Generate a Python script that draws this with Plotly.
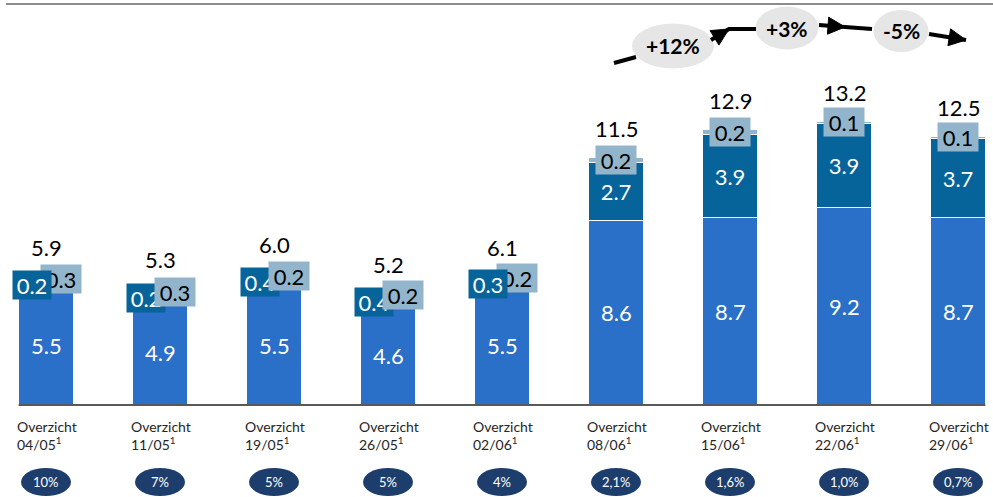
import plotly.graph_objects as go
import numpy as np

# ---------------- data ----------------
dates = ["04/05", "11/05", "19/05", "26/05", "02/06", "08/06", "15/06", "22/06", "29/06"]
base = [5.5, 4.9, 5.5, 4.6, 5.5, 8.6, 8.7, 9.2, 8.7]
mid = [0.2, 0.2, 0.4, 0.4, 0.3, 2.7, 3.9, 3.9, 3.7]
top = [0.3, 0.3, 0.2, 0.2, 0.2, 0.2, 0.2, 0.1, 0.1]
totals = [5.9, 5.3, 6.0, 5.2, 6.1, 11.5, 12.9, 13.2, 12.5]
rates = ["10%", "7%", "5%", "5%", "4%", "2,1%", "1,6%", "1,0%", "0,7%"]
growth = ["+12%", "+3%", "-5%"]
growth_from = [5, 6, 7]

# ---------------- layout constants ----------------
W, H = 993, 497
PXU = 21.5          # pixels per value unit
X0_PX, STEP_PX, BASE_PX = 46, 114, 405
BW = 0.48
FONT = "Lato"
C_BASE, C_MID, C_TOP, C_OVAL = "#2A6FC8", "#07649A", "#93B5CC", "#1D3E6C"
DARK_LABEL_ON_TOP = {0, 4}   # label stacking order as in the original

n = len(dates)
xs = list(range(n))

fig = go.Figure()
for vals, col in [(base, C_BASE), (mid, C_MID), (top, C_TOP)]:
    fig.add_trace(go.Bar(x=xs, y=vals, width=BW, marker=dict(color=col, line=dict(color="white", width=1)),
                         hoverinfo="skip"))

ann = []
shapes = []


def ppy(py):
    return 1 - py / H


def A(**kw):
    kw.setdefault("showarrow", False)
    kw.setdefault("xanchor", "center")
    kw.setdefault("yanchor", "middle")
    ann.append(kw)


VF = 22
for i in xs:
    small = mid[i] < 1
    b, m, t = base[i], mid[i], top[i]
    A(x=i, y=b / 2, text=f"{b:.1f}", font=dict(family=FONT, size=VF, color="white"))
    dark = dict(x=i, y=b + m / 2, text=f"{m:.1f}", xshift=-14 if small else 0,
                bgcolor=C_MID, width=38, height=28, borderpad=0,
                font=dict(family=FONT, size=VF, color="white"))
    light = dict(x=i, y=b + m + t / 2, text=f"{t:.1f}", xshift=15 if small else 0,
                 bgcolor=C_TOP, width=40, height=28, borderpad=0,
                 font=dict(family=FONT, size=VF, color="black"))
    for d in ([light, dark] if i in DARK_LABEL_ON_TOP else [dark, light]):
        A(**d)
    A(x=i, y=b + m + t, text=f"{totals[i]:.1f}", yshift=29,
      font=dict(family=FONT, size=VF, color="black"))
    # category labels
    A(x=i, y=ppy(435.5), yref="paper", text=f"Overzicht<br>{dates[i]}<sup>1</sup>", xanchor="left",
      xshift=-31, align="left", font=dict(family=FONT, size=14, color="#262626"))
    # rate ovals
    shapes.append(dict(type="circle", xref="x", yref="paper", xsizemode="pixel", ysizemode="pixel",
                       xanchor=i, yanchor=ppy(482), x0=-25, x1=25, y0=-14, y1=14,
                       fillcolor=C_OVAL, line=dict(width=0)))
    A(x=i, y=ppy(482), yref="paper", text=rates[i], font=dict(family=FONT, size=13, color="white"))

# baseline
shapes.append(dict(type="line", xref="x", yref="y", x0=-BW / 2, x1=n - 1 + BW / 2, y0=0, y1=0,
                   line=dict(color="#595959", width=2)))
# top rule
shapes.append(dict(type="line", xref="paper", yref="paper", x0=6 / W, x1=1, y0=ppy(4), y1=ppy(4),
                   line=dict(color="#8C8C8C", width=2)))

# growth bubbles
g_py = [46, 28, 31]
g_size = [(82, 45), (63, 43), (55, 42)]
for k, lab in enumerate(growth):
    gx = growth_from[k] + 0.5
    w, h = g_size[k]
    shapes.append(dict(type="circle", xref="x", yref="paper", xsizemode="pixel", ysizemode="pixel",
                       xanchor=gx, yanchor=ppy(g_py[k]), x0=-w / 2, x1=w / 2, y0=-h / 2, y1=h / 2,
                       fillcolor="#E6E6E6", line=dict(width=0)))
    A(x=gx, y=ppy(g_py[k]), yref="paper", text=f"<b>{lab}</b>",
      font=dict(family=FONT, size=21, color="black"))

# arrows: (bubble index, polyline points rel. x / abs y from top, head at point index or None)
arrows = [
    (0, [(-59, 63), (-37, 57)], None),
    (0, [(38, 40), (56, 29), (83, 29)], 1),
    (1, [(32, 25), (58, 27), (85, 29)], 1),
    (2, [(28, 34), (65, 40)], 1),
]
for k, pts, head in arrows:
    gx = growth_from[k] + 0.5
    path = "M " + " L ".join(f"{px},{-py}" for px, py in pts)
    shapes.append(dict(type="path", xref="x", yref="paper", xsizemode="pixel", ysizemode="pixel",
                       xanchor=gx, yanchor=1, path=path, line=dict(color="black", width=4)))
    if head is not None:
        tip = np.array(pts[head], float)
        tail = np.array(pts[head - 1], float)
        u = (tip - tail) / np.linalg.norm(tip - tail)
        nrm = np.array([-u[1], u[0]])
        L, HW = 17, 8.5
        bc = tip - L * u
        p1, p2 = bc + HW * nrm, bc - HW * nrm
        tri = f"M {tip[0]:.1f},{-tip[1]:.1f} L {p1[0]:.1f},{-p1[1]:.1f} L {p2[0]:.1f},{-p2[1]:.1f} Z"
        shapes.append(dict(type="path", xref="x", yref="paper", xsizemode="pixel", ysizemode="pixel",
                           xanchor=gx, yanchor=1, path=tri, fillcolor="black", line=dict(color="black", width=1)))

fig.update_layout(
    width=W, height=H, margin=dict(l=0, r=0, t=0, b=0),
    barmode="stack", showlegend=False,
    paper_bgcolor="white", plot_bgcolor="white",
    xaxis=dict(visible=False, range=[-X0_PX / STEP_PX, (W - X0_PX) / STEP_PX]),
    yaxis=dict(visible=False, range=[-(H - BASE_PX) / PXU, BASE_PX / PXU]),
    annotations=ann, shapes=shapes,
)
fig.write_html("out.html", config={"displayModeBar": False},
               post_script="document.body.style.margin='0';document.body.style.overflow='hidden';")
